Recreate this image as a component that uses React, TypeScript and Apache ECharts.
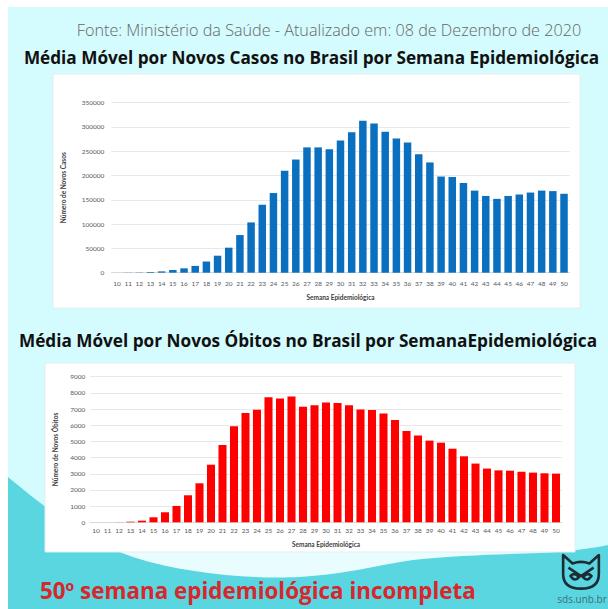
import { useEffect, useRef } from "react";
import * as echarts from "echarts";

const weeks = [
  "10","11","12","13","14","15","16","17","18","19","20","21","22","23","24","25","26","27","28","29",
  "30","31","32","33","34","35","36","37","38","39","40","41","42","43","44","45","46","47","48","49","50",
];
const casos = [
  0, 300, 500, 1500, 2700, 5500, 9000, 14000, 23000, 35000,
  51500, 77500, 103500, 140000, 164000, 210000, 233000, 258000, 258000, 254000,
  272000, 289000, 313000, 307000, 290000, 276500, 268000, 244000, 227000, 198000,
  197000, 184500, 169000, 158000, 152000, 158000, 161000, 165000, 169000, 168000,
  162500,
];
const obitos = [
  0, 0, 5, 40, 100, 310, 620, 1010, 1670, 2410,
  3560, 4780, 5930, 6760, 6960, 7730, 7660, 7770, 7150, 7230,
  7400, 7370, 7230, 6980, 6940, 6720, 6320, 5640, 5360, 5050,
  4920, 4550, 4080, 3630, 3320, 3210, 3190, 3130, 3070, 3030,
  3010,
];
const casosAxis = { max: 350000, interval: 50000 };
const obitosAxis = { max: 9000, interval: 1000 };

const headerText = "Fonte: Ministério da Saúde - Atualizado em: 08 de Dezembro de 2020";
const title1 = "Média Móvel por Novos Casos no Brasil por Semana Epidemiológica";
const title2 = "Média Móvel por Novos Óbitos no Brasil por SemanaEpidemiológica";
const footerText = "50º semana epidemiológica incompleta";
const siteText = "sds.unb.br";

const WAVE =
  "M0 470 C 30 495, 80 535, 125 550 C 180 568, 250 572, 292 570 C 340 567, 370 558, 405 553 C 450 548, 500 547, 532 546 C 560 545, 585 541, 600 538 L600 602 L0 602 Z";
const OWL =
  "M3 1 L12 9 Q20 6 28 9 L37 1 L37 19 Q37 33 20 33 Q3 33 3 19 Z M8 13 L20 21 L32 13 M10 21 Q14 17 18 22 Q14 27 10 21 Z M30 21 Q26 17 22 22 Q26 27 30 21 Z";

echarts.graphic.registerShape("wave", echarts.graphic.extendPath(WAVE, {}));
echarts.graphic.registerShape("owl", echarts.graphic.extendPath(OWL, {}));

const small = "Lato";

export default function App() {
  const ref = useRef<HTMLDivElement>(null);
  useEffect(() => {
    const chart = echarts.init(ref.current!, null, { renderer: "svg" });
    const axisLabel = { fontSize: 6.5, color: "#595959", fontFamily: small };
    const nameStyle = { fontSize: 6.5, color: "#404040", fontWeight: "bold" as const, fontFamily: small };
    const plain = (v: number) => String(v);
    chart.setOption({
      animation: false,
      backgroundColor: "#d4fbfd",
      grid: [
        { left: 103.4, top: 95.7, width: 458.2, height: 170 },
        { left: 82.25, top: 369.7, width: 471.5, height: 145.6 },
      ],
      xAxis: [0, 1].map((i) => ({
        type: "category",
        gridIndex: i,
        data: weeks,
        axisTick: { show: false },
        axisLine: { lineStyle: { color: "#d9d9d9" } },
        axisLabel: { ...axisLabel, interval: 0, margin: i === 0 ? 7 : 5 },
        name: "Semana Epidemiológica",
        nameLocation: "middle",
        nameGap: i === 0 ? 21 : 19,
        nameTextStyle: nameStyle,
      })),
      yAxis: [
        {
          type: "value",
          gridIndex: 0,
          min: 0,
          max: casosAxis.max,
          interval: casosAxis.interval,
          axisLabel: { ...axisLabel, margin: 7, formatter: plain },
          splitLine: { lineStyle: { color: "#e8e8e8" } },
          name: "Número de Novos Casos",
          nameLocation: "middle",
          nameGap: 44,
          nameTextStyle: nameStyle,
        },
        {
          type: "value",
          gridIndex: 1,
          min: 0,
          max: obitosAxis.max,
          interval: obitosAxis.interval,
          axisLabel: { ...axisLabel, margin: 5, formatter: plain },
          splitLine: { lineStyle: { color: "#e8e8e8" } },
          name: "Número de Novos Óbitos",
          nameLocation: "middle",
          nameGap: 30,
          nameTextStyle: nameStyle,
        },
      ],
      series: [
        {
          type: "bar",
          xAxisIndex: 0,
          yAxisIndex: 0,
          data: casos,
          barCategoryGap: "33%",
          itemStyle: { color: "#0a6fbf" },
        },
        {
          type: "bar",
          xAxisIndex: 1,
          yAxisIndex: 1,
          data: obitos,
          barCategoryGap: "30%",
          itemStyle: { color: "#ff0000" },
        },
      ],
      graphic: [
        {
          type: "ellipse",
          z: -25,
          shape: { cx: 310, cy: 555, rx: 240, ry: 24 },
          style: { fill: "rgba(255,255,255,0.5)" },
        },
        { type: "wave", z: -20, style: { fill: "#5ad6e0" } },
        {
          type: "rect",
          z: -10,
          shape: { x: 45, y: 67, width: 527, height: 234 },
          style: { fill: "#ffffff", stroke: "#e2eef0", lineWidth: 1 },
        },
        {
          type: "rect",
          z: -10,
          shape: { x: 37, y: 356, width: 530, height: 189 },
          style: { fill: "#ffffff", stroke: "#e2eef0", lineWidth: 1 },
        },
        {
          type: "text",
          z: 10,
          style: {
            text: headerText,
            x: 321,
            y: 23,
            textAlign: "center",
            textVerticalAlign: "middle",
            fill: "#666666",
            font: "300 16.2px 'Open Sans'",
          },
        },
        {
          type: "text",
          z: 10,
          style: {
            text: title1,
            x: 303.5,
            y: 50,
            textAlign: "center",
            textVerticalAlign: "middle",
            fill: "#111111",
            font: "bold 17.2px 'Open Sans'",
          },
        },
        {
          type: "text",
          z: 10,
          style: {
            text: title2,
            x: 300,
            y: 333,
            textAlign: "center",
            textVerticalAlign: "middle",
            fill: "#111111",
            font: "bold 17.2px 'Open Sans'",
          },
        },
        {
          type: "text",
          z: 10,
          style: {
            text: footerText,
            x: 32,
            y: 583,
            textAlign: "left",
            textVerticalAlign: "middle",
            fill: "#d8262d",
            font: "bold 22.4px 'Open Sans'",
          },
        },
        {
          type: "owl",
          z: 10,
          x: 552,
          y: 547,
          scaleX: 1.05,
          scaleY: 1.05,
          style: { fill: "none", stroke: "#1d2d35", lineWidth: 2.5, lineJoin: "round" },
        },
        {
          type: "text",
          z: 10,
          style: {
            text: siteText,
            x: 574,
            y: 592,
            textAlign: "center",
            textVerticalAlign: "middle",
            fill: "#3f6f77",
            font: "10px 'Open Sans'",
          },
        },
      ],
    });
    return () => chart.dispose();
  }, []);
  return (
    <div
      ref={ref}
      style={{ position: "absolute", left: 8, top: 7, width: 600, height: 602 }}
    />
  );
}
